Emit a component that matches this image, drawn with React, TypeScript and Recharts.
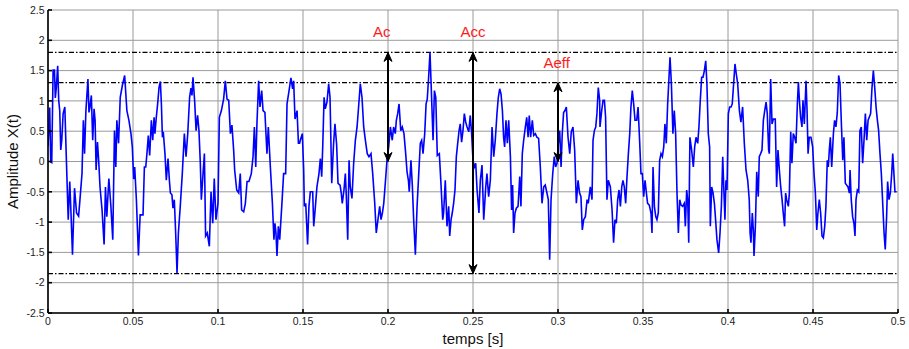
import React from "react";
import {CartesianGrid, ComposedChart, Label, Line, ReferenceLine, XAxis, YAxis} from "recharts";

// signal, [time in ms, amplitude]
const seg1: [number, number][] = [
  [0, 0.25], [1.0, 0.89], [1.6, -0.01], [2.2, -0.02], [3.0, 1.51], [3.8, 1.51], [4.3, 1.05], [4.9, 1.22],
  [5.7, 1.58], [6.3, 1.01], [6.9, 0.84], [7.5, 0.19], [8.1, 0.35], [8.9, 0.79], [9.9, 0.9], [10.7, 0.13],
  [11.9, -0.96], [12.8, -0.33], [13.6, -0.91], [14.4, -1.54], [15.6, -0.44], [16.8, -0.85], [18.0, -0.9],
  [18.8, -0.63], [20.0, -0.2], [20.8, 0.68], [21.5, 0.13], [22.3, 0.84], [23.5, 1.36], [24.1, 0.81],
  [24.7, 0.9], [25.5, 1.09], [26.3, 0.35], [27.1, 0.87], [27.7, 0.68], [28.3, -0.14], [29.1, 0.32],
  [29.8, 0.02], [30.6, -0.42], [31.8, -0.8], [33.0, -1.37], [33.8, -0.42], [34.6, -0.91], [35.8, -0.28],
  [37.0, -0.74], [38.1, -1.29], [39.1, 0.51], [39.9, -0.09], [40.5, 0.68], [41.5, 0.3], [42.5, 1.06],
  [43.7, 1.25], [45.1, 1.42], [46.4, 0.84], [47.6, 0.68], [48.8, 0.46], [49.6, 0.24], [50.4, -0.29],
  [51.0, -0.09], [52.0, -0.63], [53.2, -1.55], [54.2, -0.88],
];

const seg2: [number, number][] = [
  [55.9, -0.88], [56.7, -0.09], [57.5, -0.09], [58.2, 0.13], [59.0, 0.43], [59.8, 0.1], [60.8, 0.68],
  [61.6, 0.35], [62.4, 0.73], [62.9, 0.46], [63.7, 0.73], [64.5, 0.95], [65.3, 1.22], [66.1, 1.32],
  [66.7, 0.95], [67.3, 0.4], [67.8, 0.49], [68.8, 0.13], [69.6, -0.31], [70.6, 0.05], [71.4, -0.31],
  [72.0, -0.52], [72.9, -0.55], [73.5, -0.77], [74.3, -0.63], [75.1, -1.18], [75.9, -1.84], [76.7, -1.18],
  [77.8, -0.74], [79.0, -0.2], [80.2, 0.46], [81.2, 0.08], [82.2, 0.46], [83.3, 1.06], [84.1, 1.21],
  [84.7, 1.09], [85.3, 1.39], [86.3, 0.98], [87.1, 0.51], [88.0, 0.76], [88.8, 0.51], [89.6, -0.03],
  [90.2, -0.63], [91.2, -0.2], [92.0, 0.13], [92.7, -1.23], [93.7, -1.18], [94.9, -1.4], [95.9, -0.5],
  [96.9, -1.02], [97.8, -0.28], [98.8, -0.96], [100.0, -0.69],
];

const seg3: [number, number][] = [
  [100.8, 0.73], [102.0, 0.84], [103.3, 1.03], [104.3, 1.33], [105.3, 1.03], [106.3, 1.01], [107.3, 0.46],
  [108.2, 0.6], [109.2, 0.19], [109.8, -0.14], [111.0, -0.47], [112.2, -0.52], [113.1, -0.2], [113.9, -0.8],
  [115.1, -0.83], [116.1, -0.69], [117.1, -0.33], [118.2, -0.33], [119.6, -0.2], [120.6, 0.08], [121.4, 0.57],
  [122.2, -0.09], [122.9, 0.62], [123.9, 1.33], [124.7, 0.9], [125.7, 1.17], [126.5, 0.84], [127.6, 0.81],
  [128.8, 0.13], [129.6, 0.57], [130.8, -0.09], [132.0, -0.69], [132.9, -1.29], [133.5, -1.02], [134.1, -1.18],
  [134.7, -1.56], [135.5, -1.07], [136.3, -1.29], [137.5, -0.74], [138.6, -0.2], [139.8, -0.2], [140.6, 0.95],
  [141.8, 1.17], [142.9, 1.38], [143.9, 1.2], [144.5, 1.33], [145.3, 0.7], [146.5, 0.84], [147.3, 0.3],
  [148.0, 0.3], [148.4, 0.35], [149.6, 0.46],
];

const seg4: [number, number][] = [
  [150.4, -0.14], [150.8, -0.74], [151.6, -0.69], [152.7, -1.37], [153.5, -0.74], [154.3, -0.5], [155.7, -0.5],
  [156.3, -1.07], [157.3, -0.74], [158.2, -0.42], [159.4, -0.2], [160.2, 0.05], [161.0, -0.25], [161.6, 0.24],
  [162.4, 1.06], [163.1, 0.87], [164.1, 0.98], [165.1, 1.28], [165.9, 1.06], [166.9, -0.36], [168.0, 0.3],
  [168.8, 0.62], [169.8, 0.27], [170.6, -0.36], [171.8, -0.39], [172.5, -0.52], [173.1, -0.69], [174.1, -0.47],
  [174.9, -0.2], [175.5, -0.58], [176.3, -1.29], [177.1, 0.02], [177.8, -0.42], [178.8, -0.61], [179.8, -0.03],
  [180.8, 0.35], [181.8, 0.57], [182.7, 0.9], [183.7, 1.28], [184.7, 1.06], [185.7, 0.57], [186.7, 0.35],
  [187.8, 0.13], [188.8, 0.08], [190.0, 0.13], [191.0, -0.2], [192.2, -0.69], [193.1, -1.18], [194.1, -0.96],
  [195.1, -0.74], [195.9, -0.96], [196.7, -0.85], [197.5, -0.69], [198.4, -0.36], [199.4, 0.02],
];

const seg5: [number, number][] = [
  [200.4, 0.24], [201.4, 0.57], [202.5, 0.35], [203.3, 0.57], [204.3, 0.46], [204.9, 0.68], [205.7, 0.79],
  [206.5, 0.95], [207.5, 0.51], [208.4, 0.57], [209.4, 0.46], [210.4, 0.13], [211.2, -0.17], [212.0, -0.31],
  [212.5, -0.5], [213.5, 0.02], [214.3, -0.39], [215.1, -0.96], [216.1, -1.54], [217.1, -0.74], [218.0, -0.25],
  [219.0, 0.3], [219.8, 0.35], [220.6, 0.13], [221.6, 0.46], [222.4, 0.95], [223.1, 1.03], [223.9, 1.39],
  [224.7, 1.8], [225.5, 1.17], [226.5, 0.35], [227.3, 1.17], [228.1, 1.06], [229.0, 0.1], [230.2, 0.13],
  [231.2, -0.39], [232.2, -0.96], [232.7, -0.85], [233.7, -0.31], [234.7, -1.07], [235.7, -0.74],
  [236.3, -1.23], [237.1, -0.96], [237.8, -0.85], [238.6, -0.69], [239.4, -0.47], [240.2, 0.08], [241.0, 0.3],
  [241.8, 0.51], [242.5, 0.62], [243.3, 0.32], [244.1, 0.51], [244.9, 0.79], [245.7, 0.65], [246.5, 0.57],
  [247.5, 0.49], [248.4, 0.76], [249.2, 0.46],
];

const seg6: [number, number][] = [
  [250.0, 0.02], [250.8, -0.09], [251.6, -0.03], [252.4, -0.47], [253.5, -0.85], [254.3, -0.31], [255.3, -0.06],
  [256.3, -0.96], [257.5, -0.42], [258.2, -0.2], [259.2, -0.58], [260.2, -0.31], [261.2, 0.57], [262.2, 0.08],
  [263.1, 0.35], [264.1, 0.79], [264.9, 1.06], [265.7, 1.2], [266.5, 1.11], [267.3, 0.84], [268.0, 0.4],
  [268.6, 0.24], [269.4, 0.68], [270.2, 0.3], [271.0, 0.68], [272.0, 0.08], [272.7, -0.8], [273.3, -0.39],
  [273.9, -1.18], [274.7, -0.85], [275.5, -0.77], [276.5, -0.74], [277.5, -0.25], [278.2, -0.74], [279.0, 0.13],
  [279.8, 0.35], [280.8, 0.57], [281.6, 0.73], [282.4, 0.4], [283.1, 0.76], [283.9, 0.4], [284.9, 0.68],
  [285.7, 0.43], [286.7, 0.46], [287.6, 0.4], [288.6, 0.38], [289.6, -0.09], [290.6, -0.69], [291.6, -0.42],
  [292.5, -0.39], [293.5, -0.52], [294.3, -0.63], [295.1, -1.62], [295.9, -0.63], [296.9, -0.2], [297.8, 0.08],
  [298.6, -0.09], [299.4, -0.03],
];

const seg7: [number, number][] = [
  [300.2, 0.3], [301.0, 0.51], [301.8, -0.09], [302.5, 0.46], [303.3, 0.81], [304.1, 0.84], [304.9, 0.9],
  [305.9, 0.4], [306.9, 0.13], [307.8, 0.49], [308.8, 0.57], [309.8, 0.19], [310.8, -0.69], [311.8, -0.31],
  [312.7, -0.52], [313.5, -0.58], [314.3, -1.13], [315.1, -0.96], [316.1, -0.91], [317.1, -0.63], [317.8, -0.69],
  [319.0, -0.42], [320.0, -0.63], [320.6, 0.35], [321.4, 0.51], [322.2, 0.57], [322.9, 0.79], [323.7, 1.22],
  [324.5, 1.01], [324.7, 0.57], [325.7, 0.84], [326.5, 1.01], [327.3, 1.01], [328.0, 0.73], [328.8, -0.63],
  [329.6, -0.31], [330.8, -0.42], [331.8, -0.8], [332.7, -1.34], [333.5, -0.96], [334.3, -1.02], [335.1, -0.63],
  [335.9, -0.47], [336.7, -0.74], [337.5, -0.42], [338.2, -0.31], [339.0, -0.42], [339.8, -0.69], [340.6, -0.25],
  [341.4, 0.13], [342.2, 0.46], [342.9, 0.9], [343.7, 1.17], [344.5, 0.95], [345.3, 0.68], [346.3, 0.68],
  [347.1, 0.9], [348.0, 0.35], [348.8, -0.2], [349.6, -0.2],
];

const seg8: [number, number][] = [
  [350.4, -0.58], [351.2, -0.31], [352.0, -0.52], [352.7, -0.69], [353.7, -0.72], [354.7, -0.85], [355.3, -1.18],
  [355.9, -0.09], [356.7, -0.74], [357.5, -0.91], [358.2, -0.96], [359.0, -0.85], [359.8, 0.02], [360.6, 0.13],
  [361.4, 0.08], [362.2, 0.24], [362.9, 0.62], [363.7, 0.3], [364.5, 0.95], [365.3, 1.39], [365.9, 1.72],
  [366.7, 1.28], [367.6, 0.46], [368.4, 0.84], [369.2, 0.46], [370.0, -0.52], [370.8, -1.18], [371.6, -0.63],
  [372.4, -0.72], [373.3, -0.74], [374.3, -0.69], [374.9, -1.07], [375.7, -0.47], [376.3, -0.63], [376.9, -1.34],
  [377.6, 0.4], [378.6, 0.19], [379.6, -0.09], [380.4, 0.24], [381.2, 0.4], [382.2, 0.3], [382.9, 0.57],
  [383.7, 1.01], [384.5, 1.39], [385.3, 1.39], [386.1, 1.5], [386.9, 1.66], [387.6, 1.28], [388.4, 0.46],
  [389.2, 0.24], [389.6, -1.07], [390.4, -0.42], [391.2, -0.52], [392.0, -0.69], [392.7, -0.96], [393.5, -1.29],
  [394.5, -1.51], [395.3, -1.18], [396.1, -0.74], [396.9, 0.08], [397.5, -0.42], [398.2, -0.96], [398.8, -0.31],
  [399.4, -0.47],
];

const seg9: [number, number][] = [
  [400.2, 0.79], [401.0, 0.9], [401.8, 0.9], [402.5, 0.95], [403.3, 1.28], [404.1, 1.61], [404.9, 1.44],
  [405.7, 1.28], [406.7, 0.84], [407.6, 0.65], [408.6, 0.9], [409.6, 0.3], [410.6, -0.14], [411.6, -0.31],
  [412.5, -0.63], [413.0, -1.18], [413.5, -1.34], [414.3, -0.85], [414.9, -1.13], [415.3, -1.56], [416.1, -1.07],
  [416.9, -0.17], [417.8, -0.58], [418.4, 0.08], [419.2, 0.13], [420.0, 0.19], [420.8, 0.68], [421.6, 0.84],
  [422.4, 0.98], [423.1, 0.79], [423.9, 0.19], [424.3, 0.13], [425.1, 1.36], [425.9, 0.62], [426.7, 0.7],
  [427.8, 0.7], [428.6, -0.42], [429.4, 0.19], [430.2, -0.14], [431.0, -0.42], [431.8, -0.63], [432.5, -0.85],
  [433.3, -1.07], [433.9, -0.52], [434.5, -0.63], [435.5, -0.74], [436.1, -0.52], [436.9, 0.49], [437.6, -0.03],
  [438.4, 0.46], [439.2, 0.4], [440.0, 0.3], [440.8, 0.95], [441.4, 1.31], [442.0, 1.01], [442.7, 0.73],
  [443.5, 0.57], [444.1, 1.01], [444.9, 0.62], [445.9, 1.33], [446.5, 0.84], [447.1, 0.13], [447.8, 0.4],
  [448.8, 0.4], [449.8, 0.24],
];

const seg10: [number, number][] = [
  [450.6, -0.2], [451.4, -0.52], [452.2, -1.13], [452.9, -0.85], [453.7, -0.63], [454.5, -0.85], [455.3, -1.23],
  [456.1, -1.26], [456.9, -1.07], [457.6, -0.74], [458.4, 0.02], [459.0, -0.09], [459.6, 0.19], [460.2, 0.4],
  [461.0, -0.09], [462.0, 0.46], [462.7, 0.68], [463.5, 0.57], [464.3, 0.81], [465.1, 1.42], [465.9, 1.28],
  [466.7, 0.62], [467.5, 0.02], [468.2, 0.4], [469.0, -0.36], [469.8, -0.39], [470.6, -0.42], [471.4, -0.52],
  [471.8, -0.14], [472.5, -0.63], [473.3, -0.91], [474.1, -1.02], [474.7, -1.23], [475.3, -0.63], [476.1, -0.47],
  [476.9, -0.5], [477.6, 0.51], [478.4, 0.57], [479.2, -0.03], [480.0, 0.35], [480.8, 0.79], [481.6, 0.35],
  [482.4, 0.68], [483.1, 0.73], [483.9, 0.79], [484.7, 1.22], [485.5, 1.5], [486.3, 1.22], [487.1, 0.9],
  [487.8, 0.7], [488.6, 0.51], [489.4, 0.13], [490.2, -0.2], [491.0, -0.69], [491.8, -1.18], [492.5, -1.45],
  [493.3, -0.91], [493.9, -0.33], [494.7, -0.63], [495.5, -0.52], [496.3, -0.2], [496.9, 0.13], [497.6, -0.2],
  [498.2, -0.5], [499.2, -0.5],
];

const xTicks = [0, 0.05, 0.1, 0.15, 0.2, 0.25, 0.3, 0.35, 0.4, 0.45, 0.5];
const yTicks = [-2.5, -2, -1.5, -1, -0.5, 0, 0.5, 1, 1.5, 2, 2.5];

// dash-dot levels and the arrows between them
const levels = [1.8, 1.3, -1.85];
const arrowT = [0.2, 0.25, 0.3];
const arrowTop = [1.8, 1.8, 1.3];
const arrowBottom = [0, -1.85, 0];

const labelNames = ["Ac", "Acc", "Aeff"];
const labelT = [0.1963, 0.25, 0.2992];
const labelV = [2.14, 2.14, 1.64];

const signal = [...seg1, ...seg2, ...seg3, ...seg4, ...seg5, ...seg6, ...seg7, ...seg8, ...seg9, ...seg10]
  .map(([ms, v]) => ({t: ms / 1000, v}));

const arrows = arrowT.map((t, i) => [
  {t, a: arrowTop[i], dir: 1},
  {t, a: arrowBottom[i], dir: -1},
]);

const labels = labelNames.map((name, i) => ({t: labelT[i], a: labelV[i], name}));

const font = "'Liberation Sans', Arial, sans-serif";
const tickStyle = {fontSize: 10.5, fill: "#222", fontFamily: font};

const ArrowHead = (props: any) => {
  const {cx, cy, payload} = props;
  if (cx == null || cy == null) return <g/>;
  const d = payload.dir;
  return <path d={`M${cx},${cy} L${cx - 4},${cy + 9 * d} L${cx},${cy + 6 * d} L${cx + 4},${cy + 9 * d} Z`}
               fill="#000" stroke="#000" strokeWidth={1}/>;
};

const TextMark = (props: any) => {
  const {cx, cy, payload} = props;
  if (cx == null || cy == null) return <g/>;
  return <text x={cx} y={cy} textAnchor="middle" dominantBaseline="central" fill="#ff1a1a"
               fontSize={15} fontFamily={font}>{payload.name}</text>;
};

export default function App() {
  return <div style={{position: "absolute", left: 0, top: 0, width: 909, height: 349, background: "#fff"}}>
    <ComposedChart width={909} height={349} margin={{top: 10, right: 11, bottom: 0, left: 0}}>
      <CartesianGrid stroke="#9a9a9a" strokeWidth={1} verticalPoints={undefined}/>
      <XAxis dataKey="t" type="number" domain={[0, 0.5]} ticks={xTicks} height={36} allowDataOverflow
             stroke="#000" strokeWidth={1.6} tickSize={-4} tickMargin={9} tick={tickStyle}>
        <Label content={(p: any) => {
          const vb = p.viewBox;
          return <text x={vb.x + vb.width / 2} y={vb.y + vb.height - 5} textAnchor="middle" fontSize={15}
                       fontFamily={font} fill="#111">temps [s]</text>;
        }}/>
      </XAxis>
      <XAxis xAxisId="top" orientation="top" type="number" domain={[0, 0.5]} ticks={xTicks} height={0}
             stroke="#000" strokeWidth={1.6} tickSize={-4} tickFormatter={() => ""}/>
      <YAxis type="number" domain={[-2.5, 2.5]} ticks={yTicks} width={48} allowDataOverflow
             stroke="#000" strokeWidth={1.6} tickSize={-4} tickMargin={7.5} tick={tickStyle}>
        <Label content={(p: any) => {
          const vb = p.viewBox;
          const cy = vb.y + vb.height / 2;
          return <text x={0} y={0} transform={`translate(18,${cy}) rotate(-90)`} textAnchor="middle"
                       fontSize={15} fontFamily={font} fill="#111">Amplitude X(t)</text>;
        }}/>
      </YAxis>
      <YAxis yAxisId="right" orientation="right" type="number" domain={[-2.5, 2.5]} ticks={yTicks} width={0}
             stroke="#000" strokeWidth={1.6} tickSize={-4} tickFormatter={() => ""}/>
      {levels.map(l => <ReferenceLine key={l} y={l} stroke="#000" strokeWidth={1.2} strokeDasharray="5 2 1.5 2"/>)}
      <Line data={signal} dataKey="v" type="linear" stroke="#0000ff" strokeWidth={1.6} dot={false}
            activeDot={false} isAnimationActive={false}/>
      {arrows.map((a, i) => <Line key={i} data={a} dataKey="a" type="linear" stroke="#000" strokeWidth={2}
                                  dot={<ArrowHead/>} activeDot={false} isAnimationActive={false}/>)}
      <Line data={labels} dataKey="a" stroke="none" dot={<TextMark/>} activeDot={false} isAnimationActive={false}/>
    </ComposedChart>
  </div>;
}
